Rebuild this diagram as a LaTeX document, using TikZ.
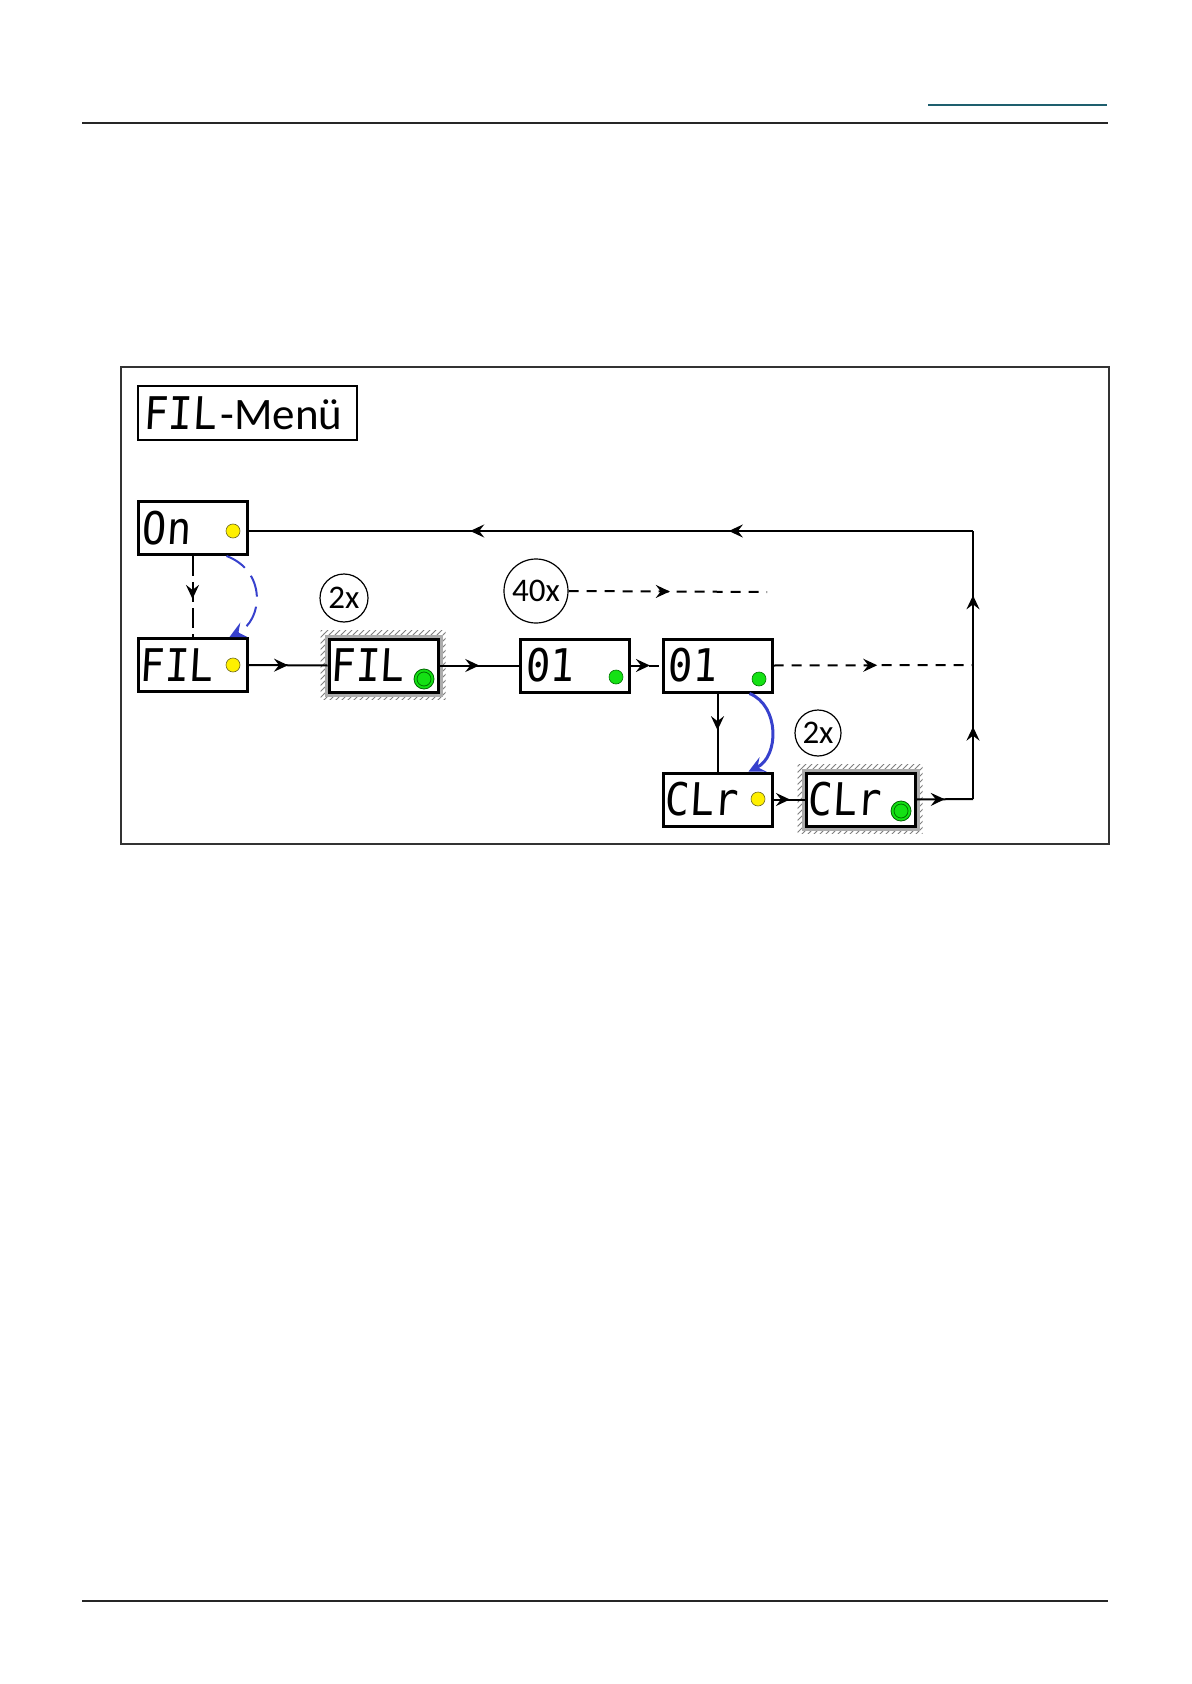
\documentclass[tikz,border=0pt]{standalone}
\usepackage{fontspec}
\setmainfont{Carlito}
\newfontfamily\segfont[FakeSlant=0.06,FakeStretch=0.9]{DejaVu Sans Mono}
\usetikzlibrary{arrows.meta,decorations.markings,patterns,backgrounds}
\definecolor{arcblue}{RGB}{55,65,205}
\definecolor{tealline}{RGB}{30,95,110}
\definecolor{ledyel}{RGB}{255,240,0}
\definecolor{ledgreen}{RGB}{20,225,20}
\tikzset{
 disp/.style={draw, line width=1.5pt, fill=white, minimum width=54.5pt, minimum height=26.5pt, inner sep=0pt},
 segtext/.style={font=\segfont\fontsize{22.5pt}{22.5pt}\selectfont, inner sep=0pt, text height=16.4pt, text depth=0pt, anchor=west},
 yled/.style={circle, draw=olive!70!black, line width=0.3pt, fill=ledyel, minimum size=7pt, inner sep=0pt},
 gled/.style={circle, draw=green!45!black, line width=0.3pt, fill=ledgreen, minimum size=7pt, inner sep=0pt},
 bigled/.style={circle, draw=green!40!black, line width=0.4pt, fill=ledgreen, minimum size=10pt, inner sep=0pt},
 conn/.style={line width=1pt},
 dconn/.style={line width=1pt, dash pattern=on 5pt off 4pt},
 longdash/.style={line width=1pt, dash pattern=on 10pt off 3pt},
 midarrow/.style={postaction={decorate}, decoration={markings, mark=at position #1 with {\arrow{Stealth[length=7pt,width=6.5pt,inset=2.5pt]}}}},
 twoarrows/.style 2 args={postaction={decorate}, decoration={markings,
   mark=at position #1 with {\arrow{Stealth[length=7pt,width=6.5pt,inset=2.5pt]}},
   mark=at position #2 with {\arrow{Stealth[length=7pt,width=6.5pt,inset=2.5pt]}}}},
 count/.style={circle, draw, line width=0.6pt, inner sep=0pt, font=\fontsize{16.5pt}{16.5pt}\selectfont},
}
\begin{document}
\begin{tikzpicture}[x=0.5pt,y=-0.5pt]
\useasboundingbox (0,0) rectangle (1191,1684);
% page header / footer
\draw[tealline, line width=0.8pt] (928,105) -- (1107,105);
\draw[black!85, line width=0.8pt] (82,123) -- (1108,123);
\draw[black!85, line width=0.8pt] (82,1601) -- (1108,1601);
% frame
\draw[black!80, line width=0.7pt] (121,367) rectangle (1109,844);
% title
\node[draw, line width=0.9pt, minimum width=109.5pt, minimum height=27pt, inner sep=0pt] (title) at (247.5,413) {};
\node[segtext] (titleseg) at ([xshift=3pt]title.west) {FIL};
\node[anchor=base west, inner sep=0pt, font=\fontsize{22.5pt}{22.5pt}\selectfont] (titlemenu) at ([xshift=1.5pt]titleseg.base east) {-Menü};
% display boxes
\node[disp] (on) at (192.5,528) {};
\node[disp] (fil) at (192.5,665) {};
\node[disp] (fil2) at (383.5,665.5) {};
\node[disp] (n01) at (575,665.5) {};
\node[disp] (n01b) at (717.5,665.5) {};
\node[disp] (clr) at (717.5,799.5) {};
\node[disp] (clr2) at (860.5,799.5) {};
% shadows
\begin{scope}[on background layer]
\foreach \b in {fil2,clr2}{
 \fill[pattern=north east lines, pattern color=gray] ([shift={(-3.5pt,3.5pt)}]\b.north west) rectangle ([shift={(3pt,-3pt)}]\b.south east);
 \fill[gray!65] ([shift={(-1.5pt,1.5pt)}]\b.north west) rectangle ([shift={(1.5pt,-1.5pt)}]\b.south east);
}
\end{scope}
% display texts
\node[segtext] (ont) at ([xshift=2.5pt]on.west) {On};
\node[segtext] (filt) at ([xshift=1.5pt]fil.west) {FIL};
\node[segtext] (fil2t) at ([xshift=1.5pt]fil2.west) {FIL};
\node[segtext] (n01t) at ([xshift=3pt]n01.west) {01};
\node[segtext] (n01bt) at ([xshift=3pt]n01b.west) {01};
\node[segtext] (clrt) at ([xshift=1.5pt]clr.west) {CLr};
\node[segtext] (clr2t) at ([xshift=1.5pt]clr2.west) {CLr};
% LEDs
\node[yled] (onled) at (233,531) {};
\node[yled] (filled) at (233,665) {};
\node[bigled] (fil2led) at (424,679) {};
\draw[green!45!black, line width=0.4pt] (fil2led.center) circle (3.5pt);
\node[gled] (n01led) at (616,677) {};
\node[gled] (n01bled) at (759,679) {};
\node[yled] (clrled) at (758,799) {};
\node[bigled] (clr2led) at (901,811) {};
\draw[green!45!black, line width=0.4pt] (clr2led.center) circle (3.5pt);
% repeat counters
\node[count, minimum size=24pt] (x2a) at (344,598) {2x};
\node[count, minimum size=32pt] (x40) at (536,591) {40x};
\node[count, minimum size=23pt] (x2b) at (818,733) {2x};
% coordinates
\coordinate (cA) at (973,799);
\coordinate (cB) at (973,665);
\coordinate (cC) at (973,531);
\coordinate (c40) at (767,592);
% connectors
\draw[longdash, midarrow=0.53] (on.south) -- (fil.north);
\draw[conn, midarrow=0.5] (fil.east) -- (fil2.west);
\draw[conn, midarrow=0.5] (fil2.east) -- (n01.west);
\draw[dconn, midarrow=0.62] (n01.east) -- (n01b.west);
\draw[dconn, midarrow=0.52] (n01b.east) -- (cB);
\draw[dconn, midarrow=0.51] (x40.east) -- (c40);
\draw[conn, midarrow=0.47] (n01b.south) -- (clr.north);
\draw[conn, midarrow=0.53] (clr.east) -- (clr2.west);
\draw[conn, midarrow=0.5] (clr2.east) -- (cA);
\draw[conn, midarrow=0.54] (cA) -- (cB);
\draw[conn, midarrow=0.52] (cB) -- (cC);
\draw[conn, twoarrows={0.337}{0.694}] (cC) -- (cC -| on.east);
% blue arcs
\draw[arcblue, line width=1pt, dash pattern=on 11pt off 5pt, -{Stealth[length=8pt,width=8pt,inset=3pt]}]
  ([xshift=-11pt]on.south east) .. controls +(40,15) and +(34,-17) .. ([xshift=-9.5pt]fil.north east);
\draw[arcblue, line width=1.5pt, -{Stealth[length=8pt,width=8pt,inset=3pt]}]
  ([xshift=-12pt]n01b.south east) .. controls +(30,12) and +(31,-15) .. ([xshift=-12.5pt]clr.north east);
\end{tikzpicture}
\end{document}
